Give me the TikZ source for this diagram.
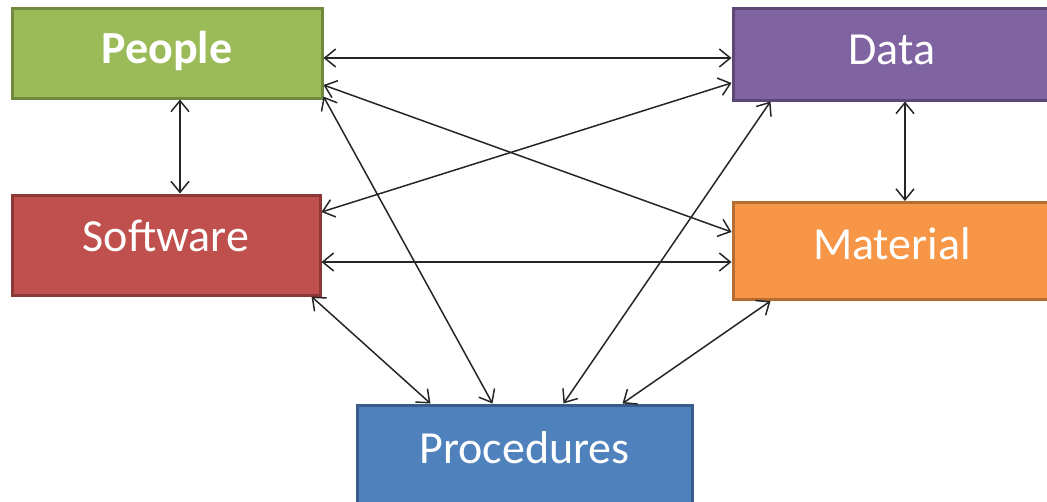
\documentclass[tikz,border=0pt]{standalone}
\usepackage{fontspec}
\setmainfont{Carlito}
\usepackage{tikz}
\usetikzlibrary{positioning}
\usetikzlibrary {arrows.meta}
\definecolor{peoplefill}{HTML}{9BBB59}
\definecolor{peopleline}{HTML}{71893F}
\definecolor{datafill}{HTML}{8064A2}
\definecolor{dataline}{HTML}{5C4776}
\definecolor{softfill}{HTML}{C0504D}
\definecolor{softline}{HTML}{8C3836}
\definecolor{matfill}{HTML}{F79646}
\definecolor{matline}{HTML}{B66D31}
\definecolor{procfill}{HTML}{4F81BD}
\definecolor{procline}{HTML}{385D8A}
\tikzset{sysbox/.style={rectangle,line width=3pt,text=white,text depth=14pt,
inner sep=2pt,font=\fontsize{46}{52}\selectfont}}
\tikzset{linkarrow/.style={line width=1.5pt,draw=black!85,
{Straight Barb[length=11pt,width=18pt]}-{Straight Barb[length=11pt,width=18pt]}}}

\begin{document}
\begin{tikzpicture}[x=1pt,y=-1pt]

        \useasboundingbox (0,0) rectangle (1047,501);
        \clip (0,0) rectangle (1047,501);

        \node[sysbox,draw=peopleline,fill=peoplefill,minimum width=310pt,minimum height=90pt,text depth=11pt,font=\fontsize{46}{52}\selectfont\bfseries] (boxPeople) at (167,53) {People};
        \node[sysbox,draw=softline,fill=softfill,minimum width=308pt,minimum height=100pt,text depth=18pt] (boxSoftware) at (166,245) {Software};
        \node[sysbox,draw=dataline,fill=datafill,minimum width=318pt,minimum height=92pt,text depth=9pt] (boxData) at (892,54) {Data};
        \node[sysbox,draw=matline,fill=matfill,minimum width=318pt,minimum height=97pt] (boxMaterial) at (892,251) {Material};
        \node[sysbox,draw=procline,fill=procfill,minimum width=335pt,minimum height=100pt] (boxProcedures) at (524.5,455) {Procedures};

        % links between the boxes
        \draw [linkarrow] ([xshift=13pt]boxPeople.south) -- ([xshift=14pt]boxSoftware.north);
        \draw [linkarrow] ([yshift=-5pt]boxPeople.east) -- ([yshift=-4pt]boxData.west);
        \draw [linkarrow] ([yshift=-32pt]boxPeople.east) -- ([yshift=19pt]boxMaterial.west);
        \draw [linkarrow] ([yshift=3pt]boxPeople.south east) -- ([xshift=-32pt]boxProcedures.north);

        \draw [linkarrow] ([yshift=33pt]boxSoftware.east) -- ([yshift=-29pt]boxData.west);
        \draw [linkarrow] ([yshift=-17pt]boxSoftware.east) -- ([yshift=-11pt]boxMaterial.west);
        \draw [linkarrow] ([xshift=-10pt]boxSoftware.south east) -- ([xshift=-94pt]boxProcedures.north);

        \draw [linkarrow] ([xshift=13pt]boxData.south) -- ([xshift=13pt]boxMaterial.north);
        \draw [linkarrow] ([xshift=39pt]boxData.south west) -- ([xshift=39pt]boxProcedures.north);
        \draw [linkarrow] ([xshift=39pt]boxMaterial.south west) -- ([xshift=98pt]boxProcedures.north);

    \end{tikzpicture}
\end{document}
